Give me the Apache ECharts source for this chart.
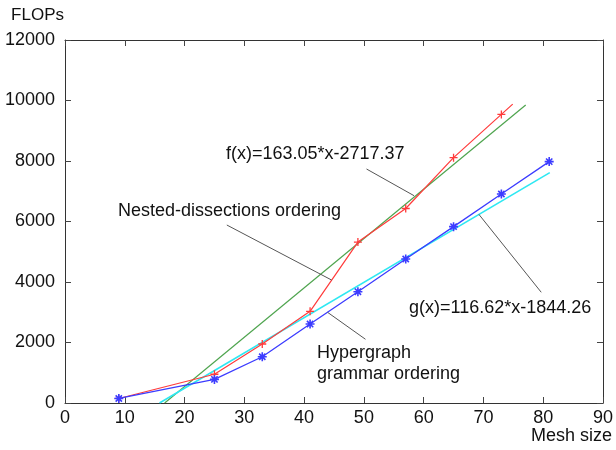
<!DOCTYPE html>
<html>
<head>
<meta charset="utf-8">
<script src="https://cdn.jsdelivr.net/npm/echarts@6/dist/echarts.min.js"></script>
<style>
  html, body { margin: 0; padding: 0; background: #fff; }
  #chart { width: 616px; height: 450px; }
</style>
</head>
<body>
<div id="chart"></div>
<script>
// mesh sizes and measured FLOPs
const meshSizes = [9, 25, 33, 41, 49, 57, 65, 73, 81];
const nestedFlops = [150, 950, 1950, 3030, 5320, 6430, 8110, 9540];
const hyperFlops = [150, 780, 1530, 2610, 3680, 4760, 5830, 6910, 7980];
// tail of the red curve past the last marker
const nestedTail = [74.9, 9880];

// linear fits f(x) and g(x), drawn between two ends each
const fitFX = [16.67, 77.07];
const fitFY = [0, 9850];
const fitGX = [15.81, 81.1];
const fitGY = [0, 7615];

const xTicks = { min: 0, max: 90, interval: 10 };
const yTicks = { min: 0, max: 12000, interval: 2000 };

// leader lines for the annotations, in data coordinates
const leaders = [
  [[27.07, 5884], [44.59, 4066]],
  [[50.44, 7736], [58.39, 6853]],
  [[69.23, 6238], [79.67, 3660]],
  [[43.92, 2998], [50.27, 2106]]
];

const RED = '#ff3b3b';
const GREEN = '#4ea44e';
const BLUE = '#3c3cff';
const CYAN = '#2ee8f2';
const FONT = 'Liberation Sans, Arial, sans-serif';

const plusSym = 'path://M0,5L10,5M5,0L5,10';
const starSym = 'path://M0,5L10,5M5,0L5,10M1.5,1.5L8.5,8.5M1.5,8.5L8.5,1.5';

const chart = echarts.init(document.getElementById('chart'));

const axisCommon = {
  type: 'value',
  splitLine: { show: false },
  axisLine: { show: true, onZero: false, lineStyle: { color: '#333', width: 1 } },
  axisTick: { show: true, inside: true, length: 6, lineStyle: { color: '#444' } }
};

const nestedData = meshSizes.slice(0, nestedFlops.length).map((x, i) => [x, nestedFlops[i]]);
nestedData.push({ value: nestedTail, symbol: 'none' });

const option = {
  animation: false,
  grid: { left: 65, right: 8, top: 40, bottom: 47 },
  xAxis: [
    Object.assign({}, axisCommon, xTicks, {
      position: 'bottom',
      axisLabel: { color: '#111', fontSize: 18, fontFamily: FONT, margin: 6 }
    }),
    Object.assign({}, axisCommon, xTicks, {
      position: 'top',
      axisLabel: { show: false }
    })
  ],
  yAxis: [
    Object.assign({}, axisCommon, yTicks, {
      position: 'left',
      name: 'FLOPs',
      nameLocation: 'end',
      nameGap: 16,
      nameTextStyle: { color: '#111', fontSize: 17, fontFamily: FONT, align: 'right', padding: [0, 1, 0, 0] },
      axisLabel: { color: '#111', fontSize: 18, fontFamily: FONT, margin: 10, formatter: v => String(v) }
    }),
    Object.assign({}, axisCommon, yTicks, {
      position: 'right',
      axisLabel: { show: false }
    })
  ],
  series: [
    {
      name: 'f(x)',
      type: 'line',
      data: fitFX.map((x, i) => [x, fitFY[i]]),
      symbol: 'none',
      lineStyle: { color: GREEN, width: 1.2 },
      z: 2
    },
    {
      name: 'g(x)',
      type: 'line',
      data: fitGX.map((x, i) => [x, fitGY[i]]),
      symbol: 'none',
      lineStyle: { color: CYAN, width: 1.6 },
      z: 2
    },
    {
      name: 'Nested-dissections ordering',
      type: 'line',
      data: nestedData,
      symbol: plusSym,
      symbolSize: 8,
      itemStyle: { color: 'rgba(0,0,0,0)', borderColor: RED, borderWidth: 1.3 },
      lineStyle: { color: RED, width: 1.2 },
      z: 3
    },
    {
      name: 'Hypergraph grammar ordering',
      type: 'line',
      data: meshSizes.map((x, i) => [x, hyperFlops[i]]),
      symbol: starSym,
      symbolSize: 9,
      itemStyle: { color: 'rgba(0,0,0,0)', borderColor: BLUE, borderWidth: 1.6 },
      lineStyle: { color: BLUE, width: 1.3 },
      z: 3,
      markLine: {
        silent: true,
        symbol: 'none',
        label: { show: false },
        lineStyle: { color: '#555', width: 1, type: 'solid' },
        data: leaders.map(l => [{ coord: l[0] }, { coord: l[1] }])
      }
    }
  ],
  graphic: [
    { type: 'text', left: 226, top: 145, style: { text: 'f(x)=163.05*x-2717.37', fill: '#111', font: '18px ' + FONT } },
    { type: 'text', left: 118, top: 202, style: { text: 'Nested-dissections ordering', fill: '#111', font: '18px ' + FONT } },
    { type: 'text', left: 409, top: 299, style: { text: 'g(x)=116.62*x-1844.26', fill: '#111', font: '18px ' + FONT } },
    { type: 'text', left: 317, top: 343, style: { text: 'Hypergraph\ngrammar ordering', fill: '#111', font: '18px ' + FONT, lineHeight: 21 } },
    { type: 'text', right: 4, top: 427, style: { text: 'Mesh size', fill: '#111', font: '18px ' + FONT } }
  ]
};

chart.setOption(option);
</script>
</body>
</html>
